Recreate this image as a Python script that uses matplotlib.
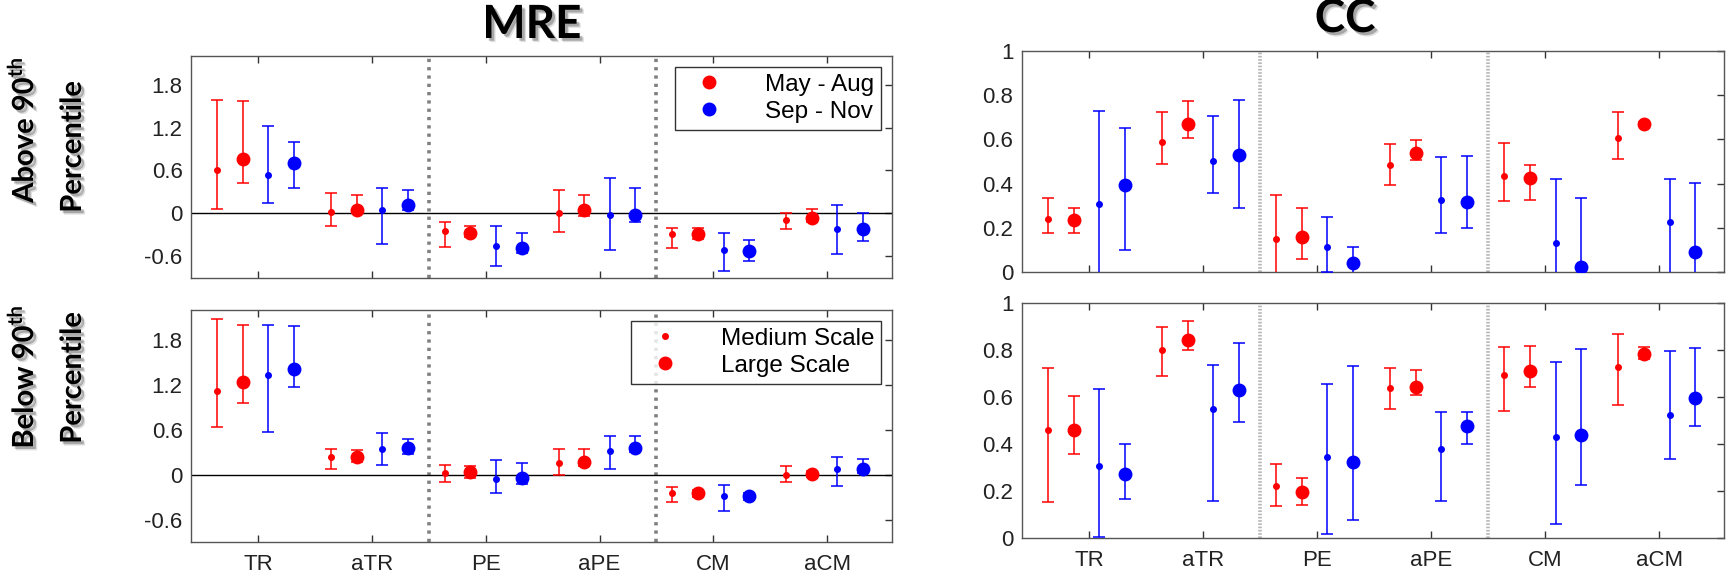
import matplotlib
matplotlib.use("Agg")
import matplotlib.pyplot as plt
import matplotlib.patheffects as pe
from matplotlib.lines import Line2D
import numpy as np

plt.rcParams['font.family'] = ['Liberation Sans', 'DejaVu Sans']
plt.rcParams['mathtext.fontset'] = 'custom'
plt.rcParams['mathtext.bf'] = 'Lato:bold'
plt.rcParams['mathtext.rm'] = 'Lato'

categories = ["TR", "aTR", "PE", "aPE", "CM", "aCM"]
mre_ticks = [-0.6, 0, 0.6, 1.2, 1.8]
mre_ticklabels = ["-0.6", "0", "0.6", "1.2", "1.8"]
cc_ticks = [0, 0.2, 0.4, 0.6, 0.8, 1.0]
cc_ticklabels = ["0", "0.2", "0.4", "0.6", "0.8", "1"]

# (value, lower, upper) per category
mre_above_may_med = [(0.60, 0.06, 1.58), (0.02, -0.18, 0.29), (-0.25, -0.47, -0.12),
                     (0.01, -0.26, 0.32), (-0.29, -0.49, -0.20), (-0.09, -0.22, 0.01)]
mre_above_may_lrg = [(0.76, 0.42, 1.57), (0.05, 0.00, 0.26), (-0.27, -0.33, -0.17),
                     (0.04, -0.04, 0.26), (-0.29, -0.36, -0.20), (-0.07, -0.12, 0.06)]
mre_above_sep_med = [(0.54, 0.14, 1.22), (0.05, -0.43, 0.36), (-0.46, -0.73, -0.17),
                     (-0.03, -0.51, 0.49), (-0.51, -0.81, -0.28), (-0.22, -0.57, 0.12)]
mre_above_sep_lrg = [(0.71, 0.36, 1.00), (0.12, 0.04, 0.32), (-0.48, -0.55, -0.28),
                     (-0.02, -0.12, 0.35), (-0.53, -0.66, -0.37), (-0.22, -0.38, 0.01)]

mre_below_may_med = [(1.12, 0.64, 2.08), (0.23, 0.08, 0.34), (0.02, -0.10, 0.13),
                     (0.16, -0.01, 0.34), (-0.24, -0.36, -0.17), (0.00, -0.10, 0.12)]
mre_below_may_lrg = [(1.24, 0.96, 2.00), (0.23, 0.17, 0.33), (0.03, -0.04, 0.12),
                     (0.17, 0.11, 0.34), (-0.25, -0.30, -0.21), (0.01, -0.03, 0.05)]
mre_below_sep_med = [(1.33, 0.57, 2.00), (0.34, 0.13, 0.55), (-0.06, -0.25, 0.19),
                     (0.32, 0.07, 0.52), (-0.28, -0.48, -0.14), (0.07, -0.15, 0.24)]
mre_below_sep_lrg = [(1.41, 1.17, 1.99), (0.36, 0.28, 0.47), (-0.04, -0.12, 0.16),
                     (0.36, 0.30, 0.51), (-0.29, -0.34, -0.24), (0.07, 0.02, 0.21)]

cc_above_may_med = [(0.240, 0.177, 0.335), (0.588, 0.489, 0.723), (0.152, -0.02, 0.347),
                    (0.484, 0.395, 0.577), (0.437, 0.323, 0.582), (0.606, 0.513, 0.723)]
cc_above_may_lrg = [(0.236, 0.179, 0.289), (0.670, 0.606, 0.773), (0.159, 0.062, 0.290),
                    (0.538, 0.506, 0.598), (0.425, 0.326, 0.486), (0.670, 0.660, 0.680)]
cc_above_sep_med = [(0.307, -0.02, 0.726), (0.503, 0.356, 0.707), (0.116, 0.003, 0.251),
                    (0.325, 0.176, 0.522), (0.134, -0.02, 0.422), (0.228, -0.02, 0.421)]
cc_above_sep_lrg = [(0.394, 0.099, 0.652), (0.531, 0.292, 0.777), (0.043, -0.02, 0.116),
                    (0.317, 0.198, 0.525), (0.022, -0.02, 0.334), (0.090, -0.02, 0.404)]

cc_below_may_med = [(0.459, 0.154, 0.725), (0.801, 0.691, 0.899), (0.220, 0.134, 0.316),
                    (0.637, 0.549, 0.723), (0.694, 0.541, 0.815), (0.727, 0.565, 0.868)]
cc_below_may_lrg = [(0.458, 0.358, 0.603), (0.845, 0.801, 0.923), (0.194, 0.138, 0.255),
                    (0.643, 0.609, 0.715), (0.710, 0.644, 0.819), (0.785, 0.761, 0.815)]
cc_below_sep_med = [(0.305, 0.003, 0.634), (0.549, 0.158, 0.738), (0.343, 0.017, 0.656),
                    (0.380, 0.158, 0.538), (0.430, 0.057, 0.751), (0.525, 0.334, 0.797)]
cc_below_sep_lrg = [(0.272, 0.164, 0.401), (0.630, 0.495, 0.829), (0.324, 0.074, 0.731),
                    (0.477, 0.401, 0.536), (0.440, 0.226, 0.804), (0.595, 0.478, 0.809)]

RED = "#ff0000"
BLUE = "#0000ff"
offsets = [-0.36, -0.135, 0.09, 0.315]
sizes = [4.0, 9.0]

shadow = [pe.SimplePatchShadow(offset=(3, -3), shadow_rgbFace="k", alpha=0.12),
          pe.SimplePatchShadow(offset=(2, -2), shadow_rgbFace="k", alpha=0.25),
          pe.Normal()]

fig = plt.figure(figsize=(17.29, 5.77), dpi=100)
ax_mre_a = fig.add_axes([0.1105, 0.5187, 0.4054, 0.3842])
ax_mre_b = fig.add_axes([0.1105, 0.0607, 0.4054, 0.4020])
ax_cc_a = fig.add_axes([0.5909, 0.5280, 0.4064, 0.3840])
ax_cc_b = fig.add_axes([0.5909, 0.0681, 0.4064, 0.4062])


def draw_series(ax, series):
    x = np.arange(1, len(categories) + 1)
    colors = [RED, RED, BLUE, BLUE]
    ms = [sizes[0], sizes[1], sizes[0], sizes[1]]
    for data, off, c, m in zip(series, offsets, colors, ms):
        arr = np.array(data)
        v, lo, hi = arr[:, 0], arr[:, 1], arr[:, 2]
        ax.errorbar(x + off, v, yerr=[v - lo, hi - v], fmt="o", color=c, ecolor=c,
                    ms=m, elinewidth=1.1, capsize=4, capthick=1.1, zorder=3)


def style_axes(ax, ticks, ticklabels, ylim, sep_color, sep_dash, show_x):
    ax.set_xlim(0.41, 6.57)
    ax.set_ylim(*ylim)
    ax.set_xticks(np.arange(1, 7))
    ax.set_xticklabels(categories if show_x else [])
    ax.set_yticks(ticks)
    ax.set_yticklabels(ticklabels)
    ax.tick_params(axis="both", direction="in", labelsize=16, colors="#222222")
    ax.tick_params(axis="x", top=True, length=5, width=1, pad=9, color="#333333")
    ax.tick_params(axis="y", left=False, right=True, length=5, width=1, pad=6,
                   color="#333333")
    for s in ax.spines.values():
        s.set_color("#555555")
        s.set_linewidth(1.0)
    for xs in (2.5, 4.5):
        ax.axvline(xs, color=sep_color, lw=2.6, ls=(0, sep_dash), zorder=1)


for ax, series, show_x in [
    (ax_mre_a, [mre_above_may_med, mre_above_may_lrg, mre_above_sep_med, mre_above_sep_lrg], False),
    (ax_mre_b, [mre_below_may_med, mre_below_may_lrg, mre_below_sep_med, mre_below_sep_lrg], True),
]:
    style_axes(ax, mre_ticks, mre_ticklabels, (-0.9, 2.2), "#808080", (0.9, 1.4), show_x)
    ax.axhline(0, color="black", lw=1.0, zorder=2)
    draw_series(ax, series)

for ax, series, show_x in [
    (ax_cc_a, [cc_above_may_med, cc_above_may_lrg, cc_above_sep_med, cc_above_sep_lrg], False),
    (ax_cc_b, [cc_below_may_med, cc_below_may_lrg, cc_below_sep_med, cc_below_sep_lrg], True),
]:
    style_axes(ax, cc_ticks, cc_ticklabels, (0, 1), "#b5b5b5", (0.45, 0.45), show_x)
    draw_series(ax, series)

# legends
season_handles = [Line2D([], [], ls="none", marker="o", color=RED, ms=sizes[1]),
                  Line2D([], [], ls="none", marker="o", color=BLUE, ms=sizes[1])]
leg = ax_mre_a.legend(season_handles, ["May - Aug", "Sep - Nov"], loc="upper right",
                      bbox_to_anchor=(0.985, 0.952), fontsize=17.5, frameon=True,
                      fancybox=False, edgecolor="black", handlelength=2.2,
                      handletextpad=1.2, borderpad=0.3, labelspacing=0.2,
                      borderaxespad=0)
leg.get_frame().set_linewidth(1.0)
leg.set_zorder(5)

scale_handles = [Line2D([], [], ls="none", marker="o", color=RED, ms=sizes[0]),
                 Line2D([], [], ls="none", marker="o", color=RED, ms=sizes[1])]
leg = ax_mre_b.legend(scale_handles, ["Medium Scale", "Large Scale"], loc="upper right",
                      bbox_to_anchor=(0.985, 0.954), fontsize=17.5, frameon=True,
                      fancybox=False, edgecolor="black", handlelength=2.2,
                      handletextpad=1.2, borderpad=0.3, labelspacing=0.2,
                      borderaxespad=0)
leg.get_frame().set_linewidth(1.0)
leg.set_zorder(5)

# titles and row labels
fig.text(532 / 1729, 1 - 25 / 577, "MRE", ha="center", va="center", fontsize=33,
         family="Lato", weight="bold", path_effects=shadow)
fig.text(1345 / 1729, 1 - 19 / 577, "CC", ha="center", va="center", fontsize=33,
         family="Lato", weight="bold", path_effects=shadow)

row_labels = [(r"Above 90$^{\mathbf{th}}$", 130, 147), (r"Below 90$^{\mathbf{th}}$", 377, 378)]
for first, y1, y2 in row_labels:
    fig.text(22 / 1729, 1 - y1 / 577, first, rotation=90, ha="center", va="center",
             fontsize=21, family="Lato", weight="bold", path_effects=shadow)
    fig.text(73 / 1729, 1 - y2 / 577, "Percentile", rotation=90, ha="center",
             va="center", fontsize=21, family="Lato", weight="bold", path_effects=shadow)

fig.savefig("out.png", dpi=100)
